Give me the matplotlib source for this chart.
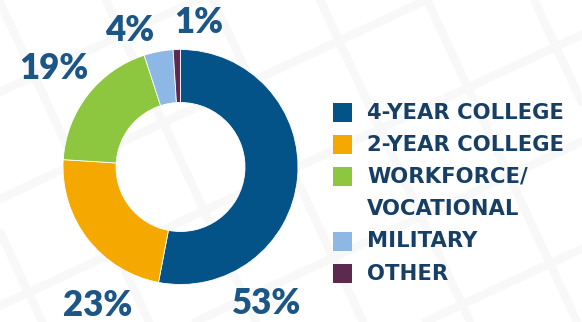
import numpy as np
import matplotlib
matplotlib.use("Agg")
import matplotlib.pyplot as plt
from matplotlib.patches import Rectangle

# Post-graduation plans, share of students
categories = ["4-YEAR COLLEGE", "2-YEAR COLLEGE", "WORKFORCE/\nVOCATIONAL", "MILITARY", "OTHER"]
shares = [53, 23, 19, 4, 1]
colors = ["#035388", "#F5A800", "#8DC63F", "#8DB8E6", "#5C2A4F"]

# where each percentage sits around the ring (pixel coords, y up)
label_xy = [(267, 18), (98, 17), (54, 254), (130, 292), (199, 300)]

W, H = 582, 322
fig = plt.figure(figsize=(W / 100, H / 100), dpi=100)
fig.patch.set_facecolor("white")
ax = fig.add_axes([0, 0, 1, 1])

# faint tiled background pattern
theta = np.deg2rad(25)
u = np.array([np.sin(theta), -np.cos(theta)])   # steep direction
v = np.array([np.cos(theta), np.sin(theta)])    # shallow direction
origin = np.array([320.0, 322.0])
for k in range(-8, 9):
    p = origin + k * 97 * v
    a, b = p - 600 * u, p + 600 * u
    ax.plot([a[0], b[0]], [a[1], b[1]], color="#F8F8F8", lw=6, zorder=0,
            solid_capstyle="butt")
    q = origin + k * 97 * u + 45 * u
    a, b = q - 800 * v, q + 800 * v
    ax.plot([a[0], b[0]], [a[1], b[1]], color="#F8F8F8", lw=6, zorder=0,
            solid_capstyle="butt")

# donut
ax.pie(shares, colors=colors, startangle=90, counterclock=False,
       center=(180.5, 155), radius=117.5,
       wedgeprops=dict(width=53, linewidth=0.6, edgecolor="white"))

for val, (x, y) in zip(shares, label_xy):
    ax.text(x, y, f"{val}%", ha="center", va="center", fontsize=25,
            fontfamily="Lato", fontweight="heavy", color="#1C5687", zorder=5)

# legend drawn by hand so the swatch lines up with the first text line
line_h = 32.2
top = 322 - 112.5
row = 0
for name, c in zip(categories, colors):
    yc = top - row * line_h
    ax.add_patch(Rectangle((333, yc - 9.5), 19, 19, facecolor=c,
                           edgecolor="none", zorder=5))
    for i, part in enumerate(name.split("\n")):
        ax.text(367, yc - i * line_h, part, ha="left", va="center",
                fontsize=15.2, fontfamily="DejaVu Sans", fontweight="bold",
                color="#173F66", zorder=5)
    row += len(name.split("\n"))

ax.set_xlim(0, W)
ax.set_ylim(0, H)
ax.set_aspect("equal")
ax.axis("off")

fig.savefig("out.png", dpi=100, facecolor="white")
